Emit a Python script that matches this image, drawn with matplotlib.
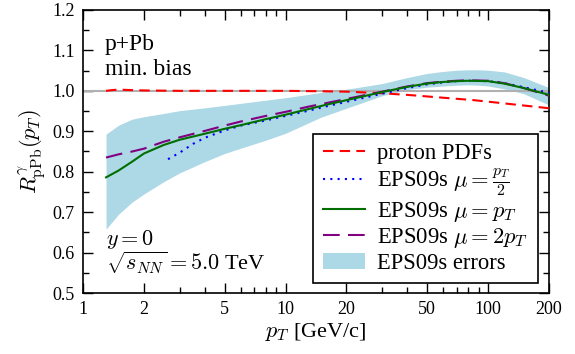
import numpy as np
import matplotlib
matplotlib.use("Agg")
import matplotlib.pyplot as plt
from matplotlib.ticker import FixedLocator, MultipleLocator, NullFormatter

plt.rcParams["font.family"] = "serif"
plt.rcParams["font.serif"] = ["Liberation Serif", "DejaVu Serif"]
plt.rcParams["mathtext.fontset"] = "cm"

# EPS09s nuclear modification for prompt photons, p+Pb at 5.0 TeV
pt = [1.3, 1.5, 1.75, 2.0, 2.5, 3, 4, 5, 6, 8, 10, 13, 16, 20, 25, 30,
      40, 50, 60, 70, 80, 100, 120, 150, 200]
r_mu1 = [0.786, 0.803, 0.825, 0.845, 0.866, 0.879, 0.894, 0.906, 0.915, 0.930,
         0.941, 0.955, 0.966, 0.977, 0.988, 0.997, 1.010, 1.018, 1.022, 1.024,
         1.025, 1.024, 1.018, 1.007, 0.990]
r_mu2 = [0.835, 0.843, 0.850, 0.857, 0.874, 0.885, 0.901, 0.914, 0.924, 0.938,
         0.948, 0.961, 0.970, 0.980, 0.990, 0.998, 1.011, 1.019, 1.023, 1.025,
         1.026, 1.025, 1.019, 1.007, 0.988]

pt_half = [2.63, 3, 3.5, 4, 5, 6, 8, 10, 13, 16, 20, 25, 30, 40, 50, 60, 70,
           80, 100, 120, 150, 200]
r_half = [0.831, 0.847, 0.869, 0.884, 0.902, 0.914, 0.927, 0.938, 0.951, 0.962,
          0.973, 0.984, 0.993, 1.007, 1.016, 1.021, 1.024, 1.025, 1.024, 1.019,
          1.009, 0.995]

pt_p = [1.3, 1.4, 1.5, 1.7, 2, 3, 5, 10, 15, 20, 30, 40, 60, 85, 120, 200]
r_proton = [1.000, 1.002, 1.003, 1.002, 1.001, 1.000, 1.000, 1.000, 0.999,
            0.998, 0.994, 0.990, 0.983, 0.977, 0.969, 0.957]

pt_band = [1.3, 1.5, 1.75, 2, 2.5, 3, 4, 5, 6, 8, 10, 15, 20, 30, 40, 50, 60,
           70, 80, 90, 100, 120, 150, 200]
band_hi = [0.893, 0.915, 0.930, 0.936, 0.944, 0.951, 0.958, 0.964, 0.969,
           0.977, 0.983, 0.996, 1.004, 1.018, 1.033, 1.043, 1.048, 1.051,
           1.052, 1.052, 1.051, 1.047, 1.033, 1.008]
band_lo = [0.658, 0.695, 0.725, 0.745, 0.775, 0.797, 0.825, 0.845, 0.858,
           0.878, 0.895, 0.935, 0.957, 0.988, 1.003, 1.009, 1.012, 1.014,
           1.015, 1.014, 1.012, 1.005, 0.993, 0.965]

xticks = [1, 2, 5, 10, 20, 50, 100, 200]

fig = plt.figure(figsize=(5.75, 3.54), dpi=100)
ax = fig.add_axes([0.1443, 0.1723, 0.8105, 0.7995])

band = ax.fill_between(pt_band, band_lo, band_hi, color="#add8e6", lw=0,
                       label="EPS09s errors")
ax.axhline(1.0, color="#b0b0b0", lw=1.5, zorder=2)
l_p, = ax.plot(pt_p, r_proton, color="#ff0000", lw=1.5, dashes=(5, 3),
               label="proton PDFs", zorder=3)
l_h, = ax.plot(pt_half, r_half, color="#0000ff", lw=1.5, dashes=(1, 2.5),
               label=r"EPS09s $\mu=\frac{p_T}{2}$", zorder=3)
l_1, = ax.plot(pt, r_mu1, color="#006e00", lw=1.5,
               label=r"EPS09s $\mu=p_T$", zorder=4)
l_2, = ax.plot(pt, r_mu2, color="#800080", lw=1.5, dashes=(8, 4),
               label=r"EPS09s $\mu=2p_T$", zorder=3)

ax.set_xscale("log")
ax.set_xlim(1, 200)
ax.set_ylim(0.5, 1.2)
ax.xaxis.set_major_locator(FixedLocator(xticks))
ax.set_xticklabels([str(v) for v in xticks])
ax.xaxis.set_minor_locator(FixedLocator(
    [3, 4, 6, 7, 8, 9, 30, 40, 60, 70, 80, 90]))
ax.xaxis.set_minor_formatter(NullFormatter())
ax.yaxis.set_major_locator(MultipleLocator(0.1))
ax.yaxis.set_minor_locator(MultipleLocator(0.05))
ax.yaxis.set_major_formatter(plt.FuncFormatter(lambda v, p: f"{v:.1f}"))
ax.tick_params(which="both", direction="in", top=True, right=True,
               labelsize=13, width=1)
ax.tick_params(which="major", length=7, pad=6)
ax.tick_params(which="minor", length=4)
for s in ax.spines.values():
    s.set_linewidth(1.2)

ax.set_xlabel(r"$p_T$ [GeV/c]", fontsize=16, labelpad=2)
ax.set_ylabel(r"$R^{\gamma}_{\mathrm{pPb}}(p_T)$", fontsize=16, labelpad=3)

ax.text(0.047, 0.859, "p+Pb", transform=ax.transAxes, fontsize=17,
        va="baseline")
ax.text(0.047, 0.770, "min. bias", transform=ax.transAxes, fontsize=17,
        va="baseline")
ax.text(0.049, 0.170, r"$y=0$", transform=ax.transAxes, fontsize=16,
        va="baseline")
ax.text(0.049, 0.081, r"$\sqrt{s_{NN}}=5.0$ TeV", transform=ax.transAxes,
        fontsize=16, va="baseline")

leg = ax.legend(handles=[l_p, l_h, l_1, l_2, band], loc="lower right",
                bbox_to_anchor=(0.976, 0.035), borderaxespad=0,
                fontsize=16.3, frameon=True, fancybox=False, edgecolor="black",
                framealpha=1, handlelength=1.85, handletextpad=0.55,
                labelspacing=0.1, borderpad=0.42)
leg.get_frame().set_linewidth(1.2)

fig.savefig("out.png", dpi=100)
